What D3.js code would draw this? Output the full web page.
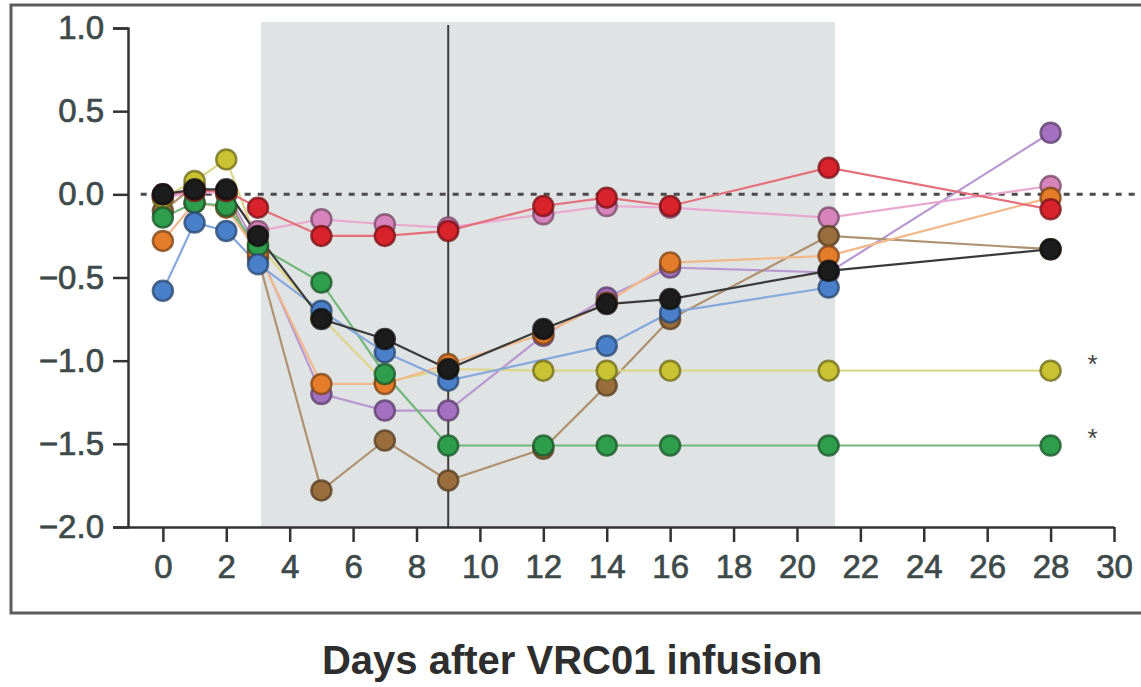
<!DOCTYPE html>
<html>
<head>
<meta charset="utf-8">
<script src="https://cdn.jsdelivr.net/npm/d3@7"></script>
<style>
  body { margin: 0; background: #ffffff; }
  svg { display: block; font-family: "Liberation Sans", Arial, sans-serif; }
</style>
</head>
<body>
<script>
// days of sampling
let days = [0, 1, 2, 3, 5, 7, 9, 12, 14, 16, 21, 28];

// one array per participant (null = no point)
let purpleVals = [-0.01, 0.02, 0.02, -0.33, -1.20, -1.30, -1.30, -0.85, -0.62, -0.44, -0.47, 0.37];
let pinkVals   = [-0.02, 0.01, 0.01, -0.22, -0.15, -0.18, -0.20, -0.12, -0.07, -0.08, -0.14, 0.05];
let brownVals  = [-0.10, 0.05, 0.00, -0.38, -1.78, -1.48, -1.72, -1.53, -1.15, -0.75, -0.25, -0.33];
let yellowVals = [-0.02, 0.08, 0.21, -0.30, -0.74, -1.13, -1.05, -1.06, -1.06, -1.06, -1.06, -1.06];
let orangeVals = [-0.28, -0.05, -0.08, -0.35, -1.14, -1.14, -1.02, -0.84, -0.65, -0.41, -0.37, -0.02];
let greenVals  = [-0.14, -0.05, -0.07, -0.31, -0.53, -1.08, -1.51, -1.51, -1.51, -1.51, -1.51, -1.51];
let blueVals   = [-0.58, -0.17, -0.22, -0.42, -0.70, -0.95, -1.12, null, -0.91, -0.71, -0.56, null];
let redVals    = [0.00, 0.02, 0.02, -0.08, -0.25, -0.25, -0.22, -0.07, -0.02, -0.07, 0.16, -0.09];
let blackVals  = [0.00, 0.03, 0.03, -0.25, -0.75, -0.87, -1.05, -0.81, -0.66, -0.63, -0.46, -0.33];

let yTicks = [-2.0, -1.5, -1.0, -0.5, 0.0, 0.5, 1.0];
let xTicks = [0, 2, 4, 6, 8, 10, 12, 14, 16, 18, 20, 22, 24, 26, 28, 30];
let shadeDays = [3.1, 21.2];
let markerDay = 9;
let starred = ["yellow", "green"];

let series = [
    {name: "purple", values: purpleVals, fill: "#a470c0", line: "#b898d0"},
    {name: "pink",   values: pinkVals,   fill: "#d884bc", line: "#eaa8d0"},
    {name: "brown",  values: brownVals,  fill: "#9a6e3c", line: "#ad9272"},
    {name: "yellow", values: yellowVals, fill: "#c9c232", line: "#dcd68a"},
    {name: "orange", values: orangeVals, fill: "#e47c2a", line: "#f2b88a"},
    {name: "green",  values: greenVals,  fill: "#2f9e4c", line: "#72b67c"},
    {name: "blue",   values: blueVals,   fill: "#4a80ca", line: "#86a8dc"},
    {name: "red",    values: redVals,    fill: "#d8222c", line: "#e4707c"},
    {name: "black",  values: blackVals,  fill: "#1c1c1c", line: "#3a3a3a"}
];

let width = 1141, height = 687;

let x = d3.scaleLinear().domain([-1.1, 30]).range([128, 1114]);
let y = d3.scaleLinear().domain([-2, 1]).range([527, 28]);

let svg = d3.select("body").append("svg")
    .attr("width", width)
    .attr("height", height);

// outer frame
svg.append("rect")
    .attr("x", 11)
    .attr("y", 5)
    .attr("width", 1140)
    .attr("height", 608)
    .attr("fill", "none")
    .attr("stroke", "#5c5c5c")
    .attr("stroke-width", 3);

// grey infusion window
svg.append("rect")
    .attr("x", x(shadeDays[0]))
    .attr("y", 22)
    .attr("width", x(shadeDays[1]) - x(shadeDays[0]))
    .attr("height", y(-2) - 22)
    .attr("fill", "#e0e3e3");

// zero line
svg.append("line")
    .attr("x1", x(-0.7))
    .attr("x2", width)
    .attr("y1", y(0))
    .attr("y2", y(0))
    .attr("stroke", "#4a4a4a")
    .attr("stroke-width", 3)
    .attr("stroke-dasharray", "6,7");

// day 9 marker
svg.append("line")
    .attr("x1", x(markerDay))
    .attr("x2", x(markerDay))
    .attr("y1", 25)
    .attr("y2", y(-2))
    .attr("stroke", "#3c3c3c")
    .attr("stroke-width", 2);

// axes
let yAxis = svg.append("g")
    .attr("transform", "translate(" + x(-1.1) + ",0)")
    .call(d3.axisLeft(y).tickValues(yTicks).tickFormat(d3.format(".1f"))
        .tickSize(15).tickSizeOuter(15).tickPadding(9));

let xAxis = svg.append("g")
    .attr("transform", "translate(0," + y(-2) + ")")
    .call(d3.axisBottom(x).tickValues(xTicks).tickFormat(d3.format("d"))
        .tickSize(15).tickSizeOuter(0).tickPadding(13));

[yAxis, xAxis].forEach(function (g) {
    g.select(".domain").attr("stroke", "#333").attr("stroke-width", 2.5);
    g.selectAll(".tick line").attr("stroke", "#333").attr("stroke-width", 2.5);
    g.selectAll(".tick text")
        .attr("fill", "#3e4a4a")
        .attr("stroke", "#3e4a4a")
        .attr("stroke-width", 0.7)
        .style("font-size", "33px")
        .style("font-family", "'Liberation Sans', Arial, sans-serif");
});

// lines then points
let valueline = d3.line()
    .x(function (d) { return x(d.day); })
    .y(function (d) { return y(d.value); });

series.forEach(function (s) {
    s.points = days.map(function (d, i) {
        return {day: d, value: s.values[i]};
    }).filter(function (d) { return d.value !== null; });
});

svg.append("g").selectAll("path")
    .data(series)
    .enter().append("path")
    .attr("fill", "none")
    .attr("stroke", function (s) { return s.line; })
    .attr("stroke-width", 2.2)
    .attr("d", function (s) { return valueline(s.points); });

series.forEach(function (s) {
    svg.append("g").selectAll("circle")
        .data(s.points)
        .enter().append("circle")
        .attr("cx", function (d) { return x(d.day); })
        .attr("cy", function (d) { return y(d.value); })
        .attr("r", 10)
        .attr("fill", s.fill)
        .attr("stroke", d3.color(s.fill).darker(1.6))
        .attr("stroke-opacity", 0.8)
        .attr("stroke-width", 2.5);
});

// significance stars
series.filter(function (s) { return starred.indexOf(s.name) >= 0; }).forEach(function (s) {
    let last = s.points[s.points.length - 1];
    svg.append("text")
        .attr("x", x(last.day) + 42)
        .attr("y", y(last.value) + 2)
        .attr("text-anchor", "middle")
        .attr("fill", "#444")
        .style("font-size", "26px")
        .text("*");
});

// x label
svg.append("text")
    .attr("x", 572)
    .attr("y", 674)
    .attr("text-anchor", "middle")
    .attr("fill", "#2e2e2e")
    .style("font-size", "40px")
    .style("font-weight", "bold")
    .text("Days after VRC01 infusion");
</script>
</body>
</html>
